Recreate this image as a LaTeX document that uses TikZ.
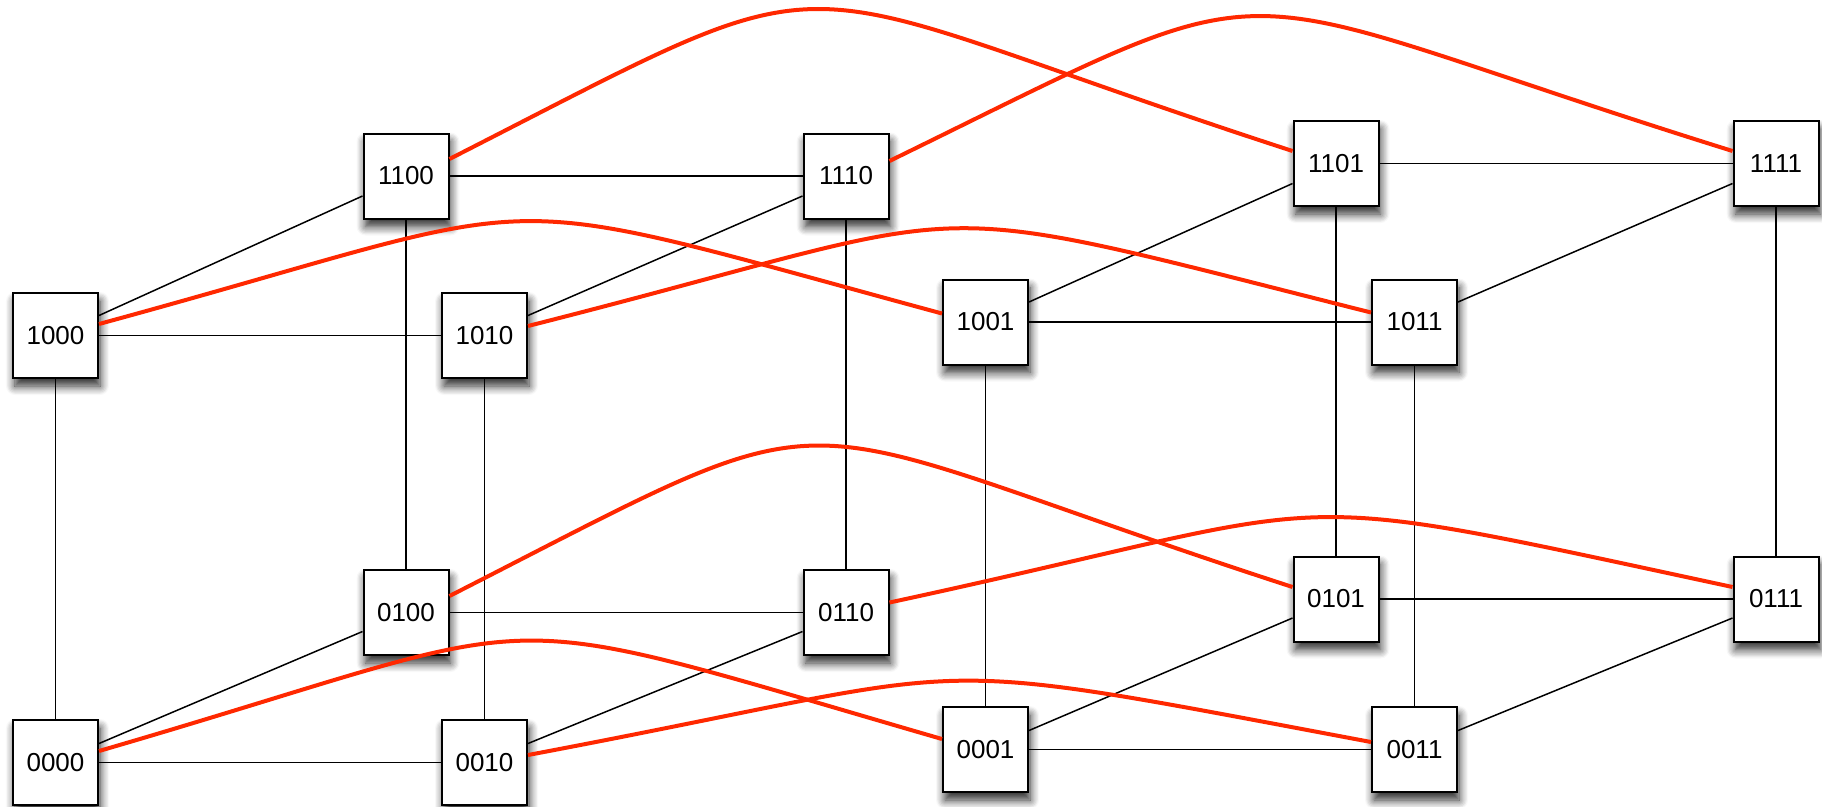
\documentclass[tikz,border=0pt]{standalone}
\usepackage{fontspec}
\setmainfont{Liberation Sans}
\usetikzlibrary{shadows.blur}

\definecolor{linkred}{RGB}{255,40,0}

\tikzset{
  vertex/.style={draw=black, line width=2pt, fill=white,
    minimum width=85pt, minimum height=85pt, inner sep=0pt,
    font=\fontsize{26}{30}\selectfont,
    blur shadow={shadow xshift=2pt, shadow yshift=-8pt,
      shadow blur radius=9pt, shadow blur steps=8, shadow opacity=85}},
  cubeedge/.style={draw=black, line width=1.5pt},
  redlink/.style={draw=linkred, line width=4pt}
}

\begin{document}
\begin{tikzpicture}[x=1pt, y=-1pt]
\useasboundingbox (0,0) rectangle (1822,806);

% words starting with 1 (top half)
\node[vertex] (n1100) at (406,176)     {1100};
\node[vertex] (n1110) at (846,176)     {1110};
\node[vertex] (n1000) at (55.5,335.5)  {1000};
\node[vertex] (n1010) at (484.5,335.5) {1010};
\node[vertex] (n1101) at (1336,163.5)  {1101};
\node[vertex] (n1111) at (1776,163.5)  {1111};
\node[vertex] (n1001) at (985.5,322)   {1001};
\node[vertex] (n1011) at (1414.5,322)  {1011};

% words starting with 0 (bottom half)
\node[vertex] (n0100) at (406,612.5)   {0100};
\node[vertex] (n0110) at (846,612.5)   {0110};
\node[vertex] (n0000) at (55.5,762.5)  {0000};
\node[vertex] (n0010) at (484.5,762.5) {0010};
\node[vertex] (n0101) at (1336,599)    {0101};
\node[vertex] (n0111) at (1776,599)    {0111};
\node[vertex] (n0001) at (985.5,749.5) {0001};
\node[vertex] (n0011) at (1414.5,749.5){0011};

% left cube (last bit 0)
\draw[cubeedge] (n1000) -- (n1010);
\draw[cubeedge] (n1100) -- (n1110);
\draw[cubeedge] (n0000) -- (n0010);
\draw[cubeedge] (n0100) -- (n0110);
\draw[cubeedge] (n1000) -- (n0000);
\draw[cubeedge] (n1100) -- (n0100);
\draw[cubeedge] (n1010) -- (n0010);
\draw[cubeedge] (n1110) -- (n0110);
\draw[cubeedge] ([yshift=20pt]n1000.east) -- ([yshift=-20pt]n1100.west);
\draw[cubeedge] ([yshift=20pt]n1010.east) -- ([yshift=-20pt]n1110.west);
\draw[cubeedge] ([yshift=19pt]n0000.east) -- ([yshift=-19pt]n0100.west);
\draw[cubeedge] ([yshift=19pt]n0010.east) -- ([yshift=-19pt]n0110.west);

% right cube (last bit 1)
\draw[cubeedge] (n1001) -- (n1011);
\draw[cubeedge] (n1101) -- (n1111);
\draw[cubeedge] (n0001) -- (n0011);
\draw[cubeedge] (n0101) -- (n0111);
\draw[cubeedge] (n1001) -- (n0001);
\draw[cubeedge] (n1101) -- (n0101);
\draw[cubeedge] (n1011) -- (n0011);
\draw[cubeedge] (n1111) -- (n0111);
\draw[cubeedge] ([yshift=20pt]n1001.east) -- ([yshift=-20pt]n1101.west);
\draw[cubeedge] ([yshift=20pt]n1011.east) -- ([yshift=-20pt]n1111.west);
\draw[cubeedge] ([yshift=19pt]n0001.east) -- ([yshift=-19pt]n0101.west);
\draw[cubeedge] ([yshift=19pt]n0011.east) -- ([yshift=-19pt]n0111.west);

% links flipping the last bit
\draw[redlink] ([yshift=17pt]n1100.east)
  .. controls +(420,-214) and +(-539,-175) .. ([yshift=12.5pt]n1101.west);
\draw[redlink] ([yshift=15pt]n1110.east)
  .. controls +(420,-205) and +(-539,-168) .. ([yshift=12.5pt]n1111.west);
\draw[redlink] ([yshift=11.5pt]n1000.east)
  .. controls +(478,-130) and +(-480,-130) .. ([yshift=8.5pt]n1001.west);
\draw[redlink] ([yshift=9.5pt]n1010.east)
  .. controls +(478,-121) and +(-480,-121) .. ([yshift=9.5pt]n1011.west);
\draw[redlink] ([yshift=16.5pt]n0100.east)
  .. controls +(420,-214) and +(-539,-175) .. ([yshift=12pt]n0101.west);
\draw[redlink] ([yshift=10pt]n0110.east)
  .. controls +(478,-103) and +(-480,-103) .. ([yshift=12pt]n0111.west);
\draw[redlink] ([yshift=11.5pt]n0000.east)
  .. controls +(478,-139) and +(-480,-139) .. ([yshift=10.5pt]n0001.west);
\draw[redlink] ([yshift=7.5pt]n0010.east)
  .. controls +(478,-90) and +(-480,-90) .. ([yshift=7.5pt]n0011.west);
\end{tikzpicture}
\end{document}
